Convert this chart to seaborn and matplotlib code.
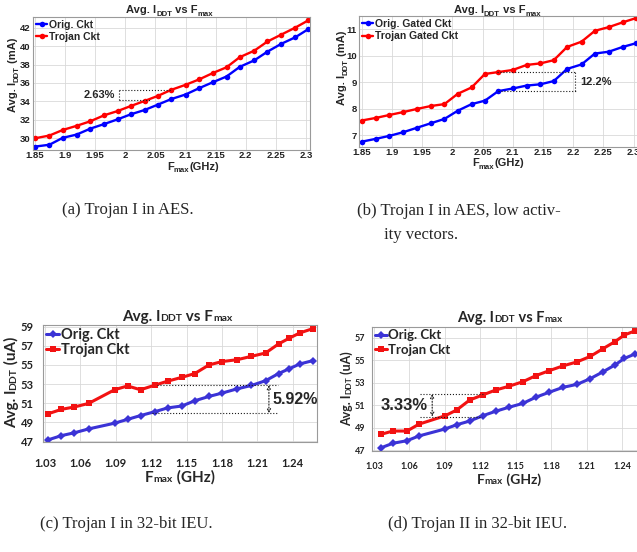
import matplotlib
matplotlib.use("Agg")
import matplotlib.pyplot as plt
import seaborn as sns
from matplotlib.transforms import IdentityTransform

# ---- data ----
x_aes = [1.85, 1.874, 1.896, 1.919, 1.942, 1.965, 1.987, 2.009, 2.032, 2.054, 2.076,
         2.100, 2.123, 2.146, 2.168, 2.190, 2.214, 2.236, 2.259, 2.282, 2.304]
a_orig = [29.1, 29.3, 30.05, 30.4, 31.05, 31.55, 32.05, 32.6, 33.07, 33.65, 34.25,
          34.75, 35.45, 36.1, 36.7, 37.75, 38.45, 39.4, 40.25, 40.95, 41.85]
a_troj = [30.0, 30.3, 30.9, 31.35, 31.85, 32.5, 32.95, 33.5, 34.05, 34.6, 35.25,
          35.8, 36.4, 37.1, 37.7, 38.8, 39.5, 40.5, 41.25, 42.0, 42.8]
b_orig = [6.75, 6.86, 6.97, 7.11, 7.28, 7.45, 7.61, 7.92, 8.17, 8.30, 8.66,
          8.76, 8.87, 8.92, 9.04, 9.5, 9.67, 10.08, 10.15, 10.33, 10.47]
b_troj = [7.55, 7.65, 7.76, 7.87, 7.99, 8.1, 8.17, 8.56, 8.8, 9.31, 9.38,
          9.46, 9.65, 9.71, 9.83, 10.33, 10.53, 10.94, 11.08, 11.26, 11.42]

x_c = [1.033, 1.044, 1.055, 1.067, 1.089, 1.100, 1.111, 1.123, 1.134, 1.146,
       1.157, 1.169, 1.180, 1.193, 1.205, 1.217, 1.228, 1.237, 1.246, 1.257]
c_orig = [47.17, 47.6, 47.9, 48.3, 48.9, 49.3, 49.7, 50.1, 50.5, 50.7,
          51.25, 51.7, 52.05, 52.5, 52.85, 53.35, 54.1, 54.6, 55.1, 55.45]
c_troj = [49.9, 50.35, 50.6, 50.97, 52.4, 52.8, 52.4, 52.88, 53.3, 53.7,
          54.1, 55.0, 55.35, 55.55, 55.9, 56.25, 57.2, 57.8, 58.35, 58.8]

x_d = [1.036, 1.046, 1.058, 1.068, 1.090, 1.100, 1.111, 1.122, 1.133, 1.144,
       1.156, 1.167, 1.178, 1.190, 1.202, 1.213, 1.224, 1.234, 1.242, 1.251]
d_orig = [47.2, 47.6, 47.83, 48.25, 48.87, 49.25, 49.58, 50.05, 50.45, 50.8,
          51.15, 51.7, 52.13, 52.58, 52.85, 53.35, 53.97, 54.57, 55.16, 55.55]
d_troj = [48.4, 48.69, 48.69, 49.3, 50.04, 50.56, 51.45, 51.9, 52.34, 52.67,
          53.08, 53.62, 54.05, 54.49, 54.85, 55.33, 56.03, 56.65, 57.24, 57.61]

aes_ticks = [1.85, 1.9, 1.95, 2.0, 2.05, 2.1, 2.15, 2.2, 2.25, 2.3]
aes_ticklabels = ["1.85", "1.9", "1.95", "2", "2.05", "2.1", "2.15", "2.2", "2.25", "2.3"]
ieu_ticks = [1.03, 1.06, 1.09, 1.12, 1.15, 1.18, 1.21, 1.24]
ieu_ticklabels = ["1.03", "1.06", "1.09", "1.12", "1.15", "1.18", "1.21", "1.24"]

captions = ["(a) Trojan I in AES.", "(b) Trojan I in AES, low activ-", "ity vectors.",
            "(c) Trojan I in 32-bit IEU.", "(d) Trojan II in 32-bit IEU."]

sns.set_theme(style="whitegrid", rc={"grid.color": "#d9d9d9", "grid.linewidth": 0.6,
                                     "axes.edgecolor": "#9a9a9a", "axes.linewidth": 0.8})
ARIAL = "Liberation Sans"
CALIBRI = "Lato"
W, H = 637, 552

fig = plt.figure(figsize=(6.37, 5.52), dpi=100)
rend = fig.canvas.get_renderer()


def rich(x, y, parts, family, rotation=0):
    # parts: (text, size, baseline shift px); x,y = centre / baseline in px from top-left
    arts = []
    total = 0
    for s, size, dy in parts:
        t = fig.text(0, 0, s, fontsize=size, fontweight="bold", family=family,
                     rotation=rotation, rotation_mode="anchor", ha="left", va="baseline",
                     transform=IdentityTransform())
        bb = t.get_window_extent(rend)
        w = bb.height if rotation == 90 else bb.width
        arts.append((t, w, dy))
        total += w
    Y = H - y
    cum = -total / 2
    for t, w, dy in arts:
        if rotation == 90:
            t.set_position((x - dy, Y + cum))
        else:
            t.set_position((x + cum, Y + dy))
        cum += w


def make_ax(l, t, r, b):
    return fig.add_axes([l / W, 1 - b / H, (r - l) / W, (b - t) / H])


def style_ticks(ax, family, size, xpad, ypad):
    ax.tick_params(length=0, labelsize=size, colors="#222222")
    ax.tick_params(axis="x", pad=xpad)
    ax.tick_params(axis="y", pad=ypad)
    for lab in ax.get_xticklabels() + ax.get_yticklabels():
        lab.set_fontweight("bold")
        lab.set_family(family)
    ax.set_xlabel("")
    ax.set_ylabel("")


# ---------- (a) ----------
ax = make_ax(33.3, 16.7, 310, 150)
sns.lineplot(x=x_aes, y=a_orig, ax=ax, color="#0000ff", marker="o", markersize=4,
             markeredgewidth=0, lw=1.7, label="Orig. Ckt")
sns.lineplot(x=x_aes, y=a_troj, ax=ax, color="#ff0000", marker="o", markersize=4,
             markeredgewidth=0, lw=1.7, label="Trojan Ckt")
ax.set_xlim(1.8472, 2.3066)
ax.set_ylim(28.73, 43.19)
ax.set_xticks(aes_ticks, aes_ticklabels)
ax.set_yticks(range(30, 43, 2))
style_ticks(ax, ARIAL, 6.8, 1, 2)
ax.legend(loc="upper left", frameon=False, prop={"family": ARIAL, "weight": "bold", "size": 7.5},
          handlelength=1.0, handletextpad=0.2, borderaxespad=0.2, labelspacing=0.2, borderpad=0.1)
ax.plot([1.99, 2.077], [35.24, 35.24], ls=":", color="k", lw=0.8)
ax.plot([1.99, 2.042], [34.16, 34.16], ls=":", color="k", lw=0.8)
ax.plot([1.99, 1.99], [34.16, 35.24], ls=":", color="k", lw=0.8)
ax.text(1.983, 34.7, "2.63%", ha="right", va="center", fontsize=8, fontweight="bold", family=ARIAL)
rich(170, 13, [("Avg. I", 8, 0), ("DDT", 5.6, -2.5), (" vs F", 8, 0), ("max", 5.6, -2.5)], ARIAL)
rich(16, 74.5, [("Avg. I", 8, 0), ("DDT", 5.6, -2.5), (" (mA)", 8, 0)], ARIAL, rotation=90)
rich(193, 169.5, [("F", 8, 0), ("max", 5.6, -2.5), ("(GHz)", 8, 0)], ARIAL)

# ---------- (b) ----------
ax = make_ax(359.3, 16, 637.5, 146.7)
sns.lineplot(x=x_aes, y=b_orig, ax=ax, color="#0000ff", marker="o", markersize=4,
             markeredgewidth=0, lw=1.7, label="Orig. Gated Ckt")
sns.lineplot(x=x_aes, y=b_troj, ax=ax, color="#ff0000", marker="o", markersize=4,
             markeredgewidth=0, lw=1.7, label="Trojan Gated Ckt")
ax.set_xlim(1.846, 2.3066)
ax.set_ylim(6.56, 11.5)
ax.set_xticks(aes_ticks, aes_ticklabels)
ax.set_yticks(range(7, 12))
style_ticks(ax, ARIAL, 6.8, 1, 2)
ax.legend(loc="upper left", frameon=False, prop={"family": ARIAL, "weight": "bold", "size": 7.5},
          handlelength=1.0, handletextpad=0.2, borderaxespad=0.2, labelspacing=0.2, borderpad=0.1)
ax.plot([2.074, 2.203], [9.4, 9.4], ls=":", color="k", lw=0.8)
ax.plot([2.076, 2.205], [8.67, 8.67], ls=":", color="k", lw=0.8)
ax.plot([2.203, 2.203], [8.67, 9.4], ls=":", color="k", lw=0.8)
ax.text(2.211, 9.0, "12.2%", ha="left", va="center", fontsize=8, fontweight="bold", family=ARIAL)
rich(497, 13, [("Avg. I", 8, 0), ("DDT", 5.6, -2.5), (" vs F", 8, 0), ("max", 5.6, -2.5)], ARIAL)
rich(345, 67.5, [("Avg. I", 8, 0), ("DDT", 5.6, -2.5), (" (mA)", 8, 0)], ARIAL, rotation=90)
rich(498, 166.5, [("F", 8, 0), ("max", 5.6, -2.5), ("(GHz)", 8, 0)], ARIAL)

# ---------- (c) ----------
blue2, red2 = "#3b33d6", "#f21212"
ax = make_ax(43.3, 325, 316.7, 442.3)
sns.lineplot(x=x_c, y=c_orig, ax=ax, color=blue2, marker="D", markersize=3.6,
             markeredgewidth=0, lw=2.2, label="Orig. Ckt")
sns.lineplot(x=x_c, y=c_troj, ax=ax, color=red2, marker="s", markersize=3.8,
             markeredgewidth=0, lw=2.2, label="Trojan Ckt")
ax.set_xlim(1.0286, 1.2603)
ax.set_ylim(46.9, 59.18)
ax.set_xticks(ieu_ticks, ieu_ticklabels)
ax.set_yticks(range(47, 60, 2))
style_ticks(ax, CALIBRI, 8, 11, 7)
ax.legend(loc="upper left", frameon=False, prop={"family": CALIBRI, "weight": "bold", "size": 10.5},
          handlelength=0.9, handletextpad=0.1, borderaxespad=0.1, labelspacing=0.05, borderpad=0.1)
ax.plot([1.1246, 1.2275], [52.88, 52.88], ls=":", color="k", lw=0.8)
ax.plot([1.1204, 1.2275], [49.95, 49.95], ls=":", color="k", lw=0.8)
ax.annotate("", xy=(1.2198, 49.95), xytext=(1.2198, 52.88),
            arrowprops=dict(arrowstyle="<->", ls=":", lw=0.8, color="k", shrinkA=0, shrinkB=0,
                            mutation_scale=6))
ax.text(1.2225, 51.4, "5.92%", ha="left", va="center", fontsize=11.5, fontweight="bold", family=ARIAL)
rich(177, 321, [("Avg. I", 11, 0), ("DDT", 7.5, 0), (" vs F", 11, 0), ("max", 7.5, 0)], CALIBRI)
rich(16, 382.5, [("Avg. I", 11, 0), ("DDT", 7.5, 0), (" (uA)", 11, 0)], CALIBRI, rotation=90)
rich(180, 482, [("F", 11, 0), ("max", 7.5, 0), (" (GHz)", 11, 0)], CALIBRI)

# ---------- (d) ----------
ax = make_ax(372.3, 326.7, 646, 450.7)
sns.lineplot(x=x_d, y=d_orig, ax=ax, color=blue2, marker="D", markersize=3.6,
             markeredgewidth=0, lw=2.2, label="Orig. Ckt")
sns.lineplot(x=x_d, y=d_troj, ax=ax, color=red2, marker="s", markersize=3.8,
             markeredgewidth=0, lw=2.2, label="Trojan Ckt")
ax.set_xlim(1.0286, 1.2603)
ax.set_ylim(46.94, 57.98)
ax.set_xticks(ieu_ticks, ieu_ticklabels)
ax.set_yticks(range(47, 58, 2))
style_ticks(ax, CALIBRI, 6.5, 8, 5)
ax.legend(loc="upper left", frameon=False, prop={"family": CALIBRI, "weight": "bold", "size": 9.5},
          handlelength=0.9, handletextpad=0.1, borderaxespad=0.1, labelspacing=0.2, borderpad=0.1)
ax.plot([1.0686, 1.1233], [51.98, 51.98], ls=":", color="k", lw=0.8)
ax.plot([1.0686, 1.1216], [49.97, 49.97], ls=":", color="k", lw=0.8)
ax.annotate("", xy=(1.0793, 49.97), xytext=(1.0793, 51.98),
            arrowprops=dict(arrowstyle="<->", ls=":", lw=0.8, color="k", shrinkA=0, shrinkB=0,
                            mutation_scale=6))
ax.text(1.0756, 50.92, "3.33%", ha="right", va="center", fontsize=12, fontweight="bold", family=ARIAL)
rich(510, 322, [("Avg. I", 10.5, 0), ("DDT", 7, 0), (" vs F", 10.5, 0), ("max", 7, 0)], CALIBRI)
rich(351, 388.5, [("Avg. I", 9, 0), ("DDT", 6, 0), (" (uA)", 9, 0)], CALIBRI, rotation=90)
rich(509, 484, [("F", 10, 0), ("max", 7, 0), (" (GHz)", 10, 0)], CALIBRI)

# ---------- captions ----------
SERIF = "Liberation Serif"
cap_kw = dict(fontsize=12, family=SERIF, va="center", transform=IdentityTransform())
fig.text(128, H - 210, captions[0], ha="center", **cap_kw)
fig.text(357, H - 211, captions[1], ha="left", **cap_kw)
fig.text(384, H - 235, captions[2], ha="left", **cap_kw)
fig.text(126, H - 524, captions[3], ha="center", **cap_kw)
fig.text(478, H - 524, captions[4], ha="center", **cap_kw)

fig.savefig("out.png", dpi=100)
